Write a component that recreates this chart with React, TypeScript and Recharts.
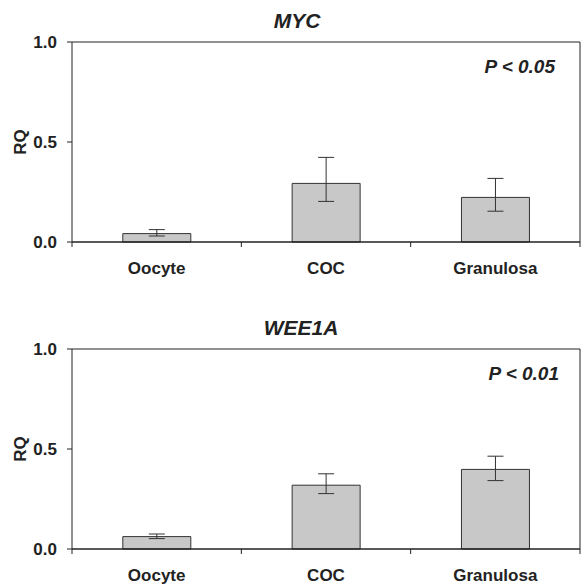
import React from "react";
import {
  Bar,
  BarChart,
  ErrorBar,
  ReferenceLine,
  XAxis,
  YAxis
} from "recharts";

const categories = ["Oocyte", "COC", "Granulosa"];

const mycValues = [0.042, 0.293, 0.223];
const mycLow = [0.03, 0.203, 0.154];
const mycHigh = [0.062, 0.423, 0.318];

const weeValues = [0.062, 0.319, 0.398];
const weeLow = [0.052, 0.277, 0.342];
const weeHigh = [0.075, 0.376, 0.464];

const yTicks = [0, 0.5, 1];

const font = "'Liberation Sans', Arial, sans-serif";
const ink = "#222";

function buildRows(values: number[], low: number[], high: number[]) {
  return categories.map((name, i) => ({
    name,
    rq: values[i],
    err: [values[i] - low[i], high[i] - values[i]]
  }));
}

const tickStyle = { fill: ink, fontSize: 17, fontWeight: 700, fontFamily: font };

// category label plus the small tick marks on the band edges
function CatTick(props: any) {
  const { x, y, payload, index, visibleTicksCount, width } = props;
  let half = payload && payload.offset;
  if (!half) half = width / (visibleTicksCount || 3) / 2;
  const last = index === (visibleTicksCount || 3) - 1;
  return (
    <g>
      <line x1={x - half} x2={x - half} y1={y} y2={y + 5} stroke={ink} />
      {last && <line x1={x + half} x2={x + half} y1={y} y2={y + 5} stroke={ink} />}
      <text
        x={x}
        y={y + 26}
        textAnchor="middle"
        dominantBaseline="central"
        {...tickStyle}
      >
        {payload.value}
      </text>
    </g>
  );
}

function RqLabel(props: any) {
  const vb = props.viewBox || {};
  const cx = (vb.x || 0) + 20;
  const cy = (vb.y || 0) + (vb.height || 0) / 2;
  return (
    <text
      x={cx}
      y={cy}
      transform={`rotate(-90 ${cx} ${cy})`}
      textAnchor="middle"
      dominantBaseline="central"
      fill={ink}
      fontSize={17}
      fontWeight={700}
      fontFamily={font}
    >
      RQ
    </text>
  );
}

function Panel({
  rows,
  height,
  margin
}: {
  rows: { name: string; rq: number; err: number[] }[];
  height: number;
  margin: { top: number; right: number; bottom: number; left: number };
}) {
  return (
    <BarChart width={581} height={height} data={rows} margin={margin} barCategoryGap="30%">
      <XAxis
        dataKey="name"
        tickLine={false}
        tickSize={0}
        tickMargin={0}
        axisLine={{ stroke: ink, strokeWidth: 1.5 }}
        tick={CatTick}
        interval={0}
        height={30}
      />
      <YAxis
        domain={[0, 1]}
        ticks={yTicks}
        tickFormatter={(v: number) => v.toFixed(1)}
        width={72}
        tickSize={5}
        tickMargin={10}
        tickLine={{ stroke: ink }}
        axisLine={{ stroke: ink }}
        tick={tickStyle}
        label={{ content: RqLabel }}
      />
      <YAxis
        yAxisId="frame"
        orientation="right"
        domain={[0, 1]}
        width={1}
        tick={false}
        tickLine={false}
        axisLine={{ stroke: ink }}
      />
      <ReferenceLine y={1} stroke={ink} strokeWidth={1} ifOverflow="visible" />
      <Bar
        dataKey="rq"
        fill="#c8c8c8"
        stroke="#333"
        strokeWidth={1}
        isAnimationActive={false}
      >
        <ErrorBar dataKey="err" width={8} stroke="#333" strokeWidth={1} isAnimationActive={false} />
      </Bar>
    </BarChart>
  );
}

const titleStyle: React.CSSProperties = {
  position: "absolute",
  fontFamily: font,
  fontWeight: 700,
  fontStyle: "italic",
  color: ink,
  whiteSpace: "nowrap"
};

export default function App() {
  return (
    <div style={{ position: "absolute", left: 0, top: 0, width: 581, height: 586, background: "#fff" }}>
      <div style={{ position: "absolute", left: 0, top: 0 }}>
        <Panel
          rows={buildRows(mycValues, mycLow, mycHigh)}
          height={290}
          margin={{ top: 42, right: 0, bottom: 18, left: 0 }}
        />
      </div>
      <div style={{ position: "absolute", left: 0, top: 300 }}>
        <Panel
          rows={buildRows(weeValues, weeLow, weeHigh)}
          height={286}
          margin={{ top: 49, right: 0, bottom: 7, left: 0 }}
        />
      </div>
      <div style={{ ...titleStyle, left: 197, width: 200, top: 10, fontSize: 21, lineHeight: "21px", textAlign: "center" }}>
        MYC
      </div>
      <div style={{ ...titleStyle, left: 201, width: 200, top: 317, fontSize: 21, lineHeight: "21px", textAlign: "center" }}>
        WEE1A
      </div>
      <div style={{ ...titleStyle, right: 581 - 555, top: 57, fontSize: 19, lineHeight: "19px", textAlign: "right" }}>
        P &lt; 0.05
      </div>
      <div style={{ ...titleStyle, right: 581 - 559, top: 364, fontSize: 19, lineHeight: "19px", textAlign: "right" }}>
        P &lt; 0.01
      </div>
    </div>
  );
}
